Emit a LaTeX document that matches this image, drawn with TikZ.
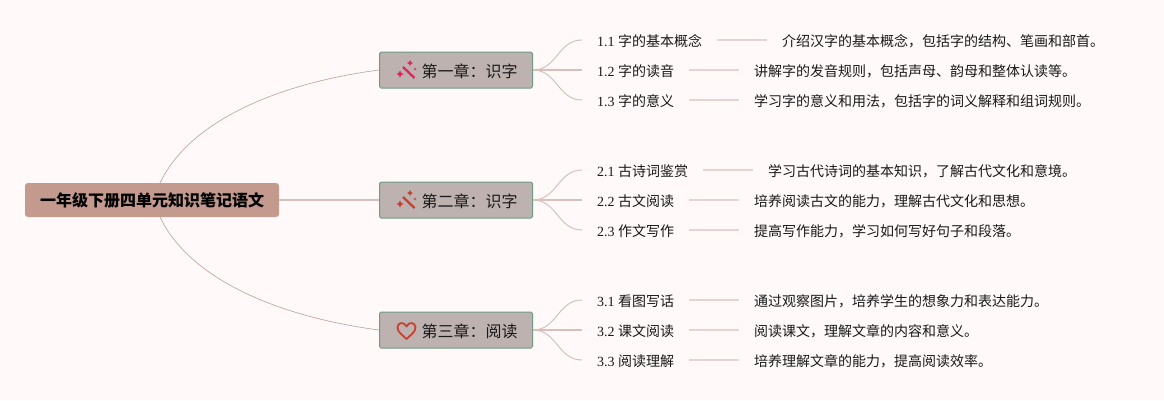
\documentclass[tikz,border=0pt]{standalone}
\usepackage{fontspec}
\setmainfont{Liberation Serif}
\newfontfamily\cjk{Noto Sans CJK SC}
\usepackage{xcolor}
\usetikzlibrary{calc}
\newcommand{\zhcomma}{\char"FF0C\relax}
\newcommand{\zhcolon}{\char"FF1A\relax}
\definecolor{paper}{HTML}{FFF9F9}
\definecolor{rootfill}{HTML}{C49A8E}
\definecolor{chapfill}{HTML}{BDB2B0}
\definecolor{chapedge}{HTML}{6F9A88}
\definecolor{trunk}{HTML}{C4A8A2}
\definecolor{twig}{HTML}{D8C0BA}
\definecolor{rule}{HTML}{E6D2CE}
\definecolor{iconpink}{HTML}{E0245E}
\definecolor{iconred}{HTML}{C8402F}
\tikzset{
  rootbox/.style={fill=rootfill, rounded corners=3pt, minimum width=254pt, minimum height=34pt, inner sep=0pt, text height=13pt, text depth=1pt, font=\cjk\bfseries\fontsize{16}{16}\selectfont, text=black},
  chap/.style={draw=chapedge, fill=chapfill, line width=1pt, rounded corners=1.5pt, minimum height=36pt, inner xsep=15pt, inner ysep=0pt, text height=15pt, text depth=1pt, anchor=west, font=\cjk\fontsize{16}{16}\selectfont, text=black!90},
  leaf/.style={anchor=west, inner xsep=15pt, inner ysep=2pt, text height=14pt, text depth=1pt, font=\fontsize{14}{14}\selectfont, text=black!90},
  desc/.style={anchor=west, inner xsep=15pt, inner ysep=2pt, text height=14pt, text depth=1pt, font=\cjk\fontsize{14}{14}\selectfont, text=black!90},
  limb/.style={draw=trunk, line width=0.7pt},
  limbm/.style={draw=twig, line width=1.2pt},
  twigc/.style={draw=twig, line width=1pt},
  link/.style={draw=rule, line width=1.2pt},
  wand/.pic={
    \draw[#1, line width=2.3pt] (-3,-3) -- (8.5,8);
    \fill[#1] (-6,0.5) -- (-4.8,2.8) -- (-2.5,4) -- (-4.8,5.2) -- (-6,7.5) -- (-7.2,5.2) -- (-9.5,4) -- (-7.2,2.8) -- cycle;
    \fill[#1] (4,-10) -- (5,-8) -- (7,-7) -- (5,-6) -- (4,-4) -- (3,-6) -- (1,-7) -- (3,-8) -- cycle;
    \fill[#1] (9,-2.5) -- (9.5,-1.5) -- (10.5,-1) -- (9.5,-0.5) -- (9,0.5) -- (8.5,-0.5) -- (7.5,-1) -- (8.5,-1.5) -- cycle;
  },
  heartic/.pic={
    \draw[#1, line width=1.8pt, line join=round] (0,8.5) .. controls (-4,4.5) and (-9,1.5) .. (-9,-3) .. controls (-9,-8.5) and (-2,-9) .. (0,-4) .. controls (2,-9) and (9,-8.5) .. (9,-3) .. controls (9,1.5) and (4,4.5) .. (0,8.5) -- cycle;
  },
}

\begin{document}
\begin{tikzpicture}[x=1pt,y=-1pt]
  \useasboundingbox[fill=paper] (0,0) rectangle (1164,400);

  \node[rootbox] (root) at (152,200) {一年级下册四单元知识笔记语文};
  \coordinate (rootup) at (160,183);
  \coordinate (rootdown) at (160,217);

  \node[chap] (ch1) at (379,70) {\hspace{27pt}第一章\zhcolon 识字};
  \node[chap] (ch2) at (379,200) {\hspace{27pt}第二章\zhcolon 识字};
  \node[chap] (ch3) at (379,330) {\hspace{27pt}第三章\zhcolon 阅读};
  \pic at (406,70) {wand=iconpink};
  \pic at (406,200) {wand=iconred};
  \pic at (406.5,330.5) {heartic=iconred};

  \draw[limb] (rootup) .. controls (190,120) and (280,83) .. (ch1.west);
  \draw[limbm] (root.east) -- (ch2.west);
  \draw[limb] (rootdown) .. controls (190,280) and (280,317) .. (ch3.west);

  % chapter one
  \node[leaf] (a1) at (582,40) {1.1 {\cjk 字的基本概念}};
  \node[leaf] (a2) at (582,70) {1.2 {\cjk 字的读音}};
  \node[leaf] (a3) at (582,100) {1.3 {\cjk 字的意义}};
  \node[desc] (d1) at (767,40) {介绍汉字的基本概念\zhcomma 包括字的结构、笔画和部首。};
  \node[desc] (d2) at (739,70) {讲解字的发音规则\zhcomma 包括声母、韵母和整体认读等。};
  \node[desc] (d3) at (739,100) {学习字的意义和用法\zhcomma 包括字的词义解释和组词规则。};

  % chapter two
  \node[leaf] (b1) at (582,170) {2.1 {\cjk 古诗词鉴赏}};
  \node[leaf] (b2) at (582,200) {2.2 {\cjk 古文阅读}};
  \node[leaf] (b3) at (582,230) {2.3 {\cjk 作文写作}};
  \node[desc] (e1) at (753,170) {学习古代诗词的基本知识\zhcomma 了解古代文化和意境。};
  \node[desc] (e2) at (739,200) {培养阅读古文的能力\zhcomma 理解古代文化和思想。};
  \node[desc] (e3) at (739,230) {提高写作能力\zhcomma 学习如何写好句子和段落。};

  % chapter three
  \node[leaf] (c1) at (582,300) {3.1 {\cjk 看图写话}};
  \node[leaf] (c2) at (582,330) {3.2 {\cjk 课文阅读}};
  \node[leaf] (c3) at (582,360) {3.3 {\cjk 阅读理解}};
  \node[desc] (f1) at (739,300) {通过观察图片\zhcomma 培养学生的想象力和表达能力。};
  \node[desc] (f2) at (739,330) {阅读课文\zhcomma 理解文章的内容和意义。};
  \node[desc] (f3) at (739,360) {培养理解文章的能力\zhcomma 提高阅读效率。};

  \foreach \c/\k in {ch1/a,ch2/b,ch3/c}{
    \draw[twigc] (\c.east) .. controls +(24,0) and ($(\k1.west)+(-24,0)$) .. (\k1.west);
    \draw[limbm] (\c.east) -- (\k2.west);
    \draw[twigc] (\c.east) .. controls +(24,0) and ($(\k3.west)+(-24,0)$) .. (\k3.west);
  }
  \foreach \l/\d in {a1/d1,a2/d2,a3/d3,b1/e1,b2/e2,b3/e3,c1/f1,c2/f2,c3/f3}
    \draw[link] (\l.east) -- (\d.west);
\end{tikzpicture}
\end{document}
